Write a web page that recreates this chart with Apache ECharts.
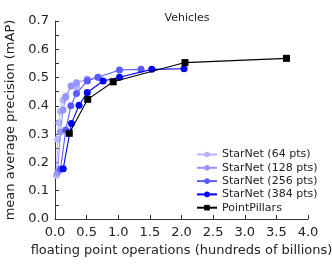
<!DOCTYPE html>
<html><head><meta charset="utf-8">
<script src="https://cdn.jsdelivr.net/npm/echarts@6/dist/echarts.min.js"></script>
<style>html,body{margin:0;padding:0;background:#fff}#c{width:332px;height:266px}</style>
</head><body><div id="c"></div>
<script>
const seriesNames = ['StarNet (64 pts)','StarNet (128 pts)','StarNet (256 pts)','StarNet (384 pts)','PointPillars'];
const x64  = [0.022,0.043,0.064,0.085,0.127,0.17,0.255,0.34];
const y64  = [0.155,0.282,0.340,0.380,0.420,0.435,0.470,0.468];
const x128 = [0.043,0.085,0.127,0.17,0.255,0.34,0.51,0.68];
const y128 = [0.165,0.308,0.385,0.430,0.470,0.482,0.494,0.501];
const x256 = [0.087,0.17,0.25,0.34,0.51,0.68,1.02,1.36];
const y256 = [0.176,0.315,0.400,0.444,0.488,0.501,0.527,0.529];
const x384 = [0.13,0.26,0.38,0.51,0.76,1.02,1.53,2.04];
const y384 = [0.178,0.338,0.402,0.447,0.488,0.501,0.529,0.531];
const xPP  = [0.226,0.517,0.92,2.055,3.66];
const yPP  = [0.303,0.423,0.485,0.553,0.568];
const xTicks = [0,0.5,1,1.5,2,2.5,3,3.5,4];
const yTicks = [0,0.1,0.2,0.3,0.4,0.5,0.6,0.7];

const colors = ['#b4b4ff','#9494ff','#5a5aff','#0000ff','#000000'];
const xs = [x64,x128,x256,x384,xPP];
const ys = [y64,y128,y256,y384,yPP];
const font = 'DejaVu Sans';
const chart = echarts.init(document.getElementById('c'), null, {renderer:'canvas'});
const series = seriesNames.map((n,i)=>({
  name:n, type:'line',
  data: xs[i].map((v,j)=>[v, ys[i][j]]),
  symbol: i===4 ? 'rect' : 'circle',
  symbolSize: 7,
  showSymbol:true,
  lineStyle:{color:colors[i], width:1.1},
  itemStyle:{color:colors[i]},
  z: 2+i,
  animation:false
}));
chart.setOption({
  animation:false,
  title:{text:'Vehicles', left:182, top:8, textAlign:'center',
    textStyle:{fontFamily:font, fontSize:11, fontWeight:'normal', color:'#222'}},
  grid:{left:55, right:24, top:21, bottom:47, containLabel:false, outerBoundsMode:'none'},
  xAxis:{type:'value', min:0, max:4, interval:0.5,
    name:'floating point operations (hundreds of billions)', nameLocation:'middle', nameGap:20,
    nameTextStyle:{fontFamily:font, fontSize:13, color:'#222'},
    axisLine:{lineStyle:{color:'#333', width:1}},
    axisTick:{inside:true, length:4, lineStyle:{color:'#333'}},
    splitLine:{show:false},
    axisLabel:{fontFamily:font, fontSize:13, color:'#222', margin:7,
      formatter:v=>v.toFixed(1)}},
  yAxis:{type:'value', min:0, max:0.7, interval:0.05,
    name:'mean average precision (mAP)', nameLocation:'middle', nameGap:30,
    nameTextStyle:{fontFamily:font, fontSize:13, color:'#222'},
    axisLine:{show:true, lineStyle:{color:'#333', width:1}},
    axisTick:{show:true, inside:true, length:4, lineStyle:{color:'#333'}},
    splitLine:{show:false},
    axisLabel:{fontFamily:font, fontSize:13, color:'#222', margin:6,
      formatter:v=>{const k=Math.round(v*100); return k%10===0 ? (k/100).toFixed(1) : '';}}},
  legend:{orient:'vertical', left:191, top:144, itemWidth:20, itemHeight:7, itemGap:2.3,
    data:seriesNames,
    textStyle:{fontFamily:font, fontSize:11, color:'#222', padding:[0,0,0,0]}},
  series
});
</script></body></html>
